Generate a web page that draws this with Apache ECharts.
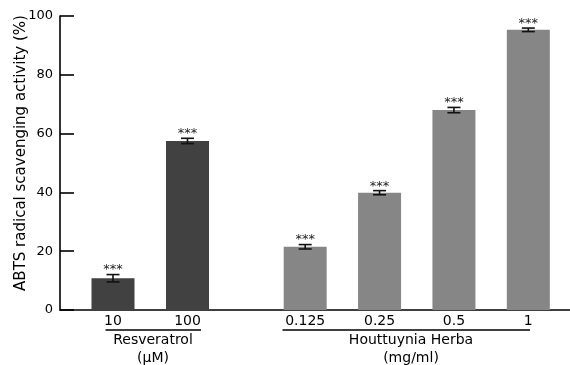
<!DOCTYPE html>
<html>
<head>
<meta charset="utf-8">
<script src="https://cdn.jsdelivr.net/npm/echarts@6/dist/echarts.min.js"></script>
<style>html,body{margin:0;padding:0;background:#fff}#c{width:570px;height:365px}</style>
</head>
<body>
<div id="c"></div>
<script>
// Data
var resCategories = ['10', '100'];
var resValues = [10.8, 57.5];
var resErrors = [1.25, 0.9];
var resSig = ['***', '***'];

var hhCategories = ['0.125', '0.25', '0.5', '1'];
var hhValues = [21.5, 39.9, 68.0, 95.3];
var hhErrors = [0.75, 0.7, 0.9, 0.6];
var hhSig = ['***', '***', '***', '***'];

var yTicks = [0, 20, 40, 60, 80, 100];

var FONT = 'DejaVu Sans';

function errData(vals, errs, sig) {
  return vals.map(function (v, i) { return [i, v, errs[i], sig[i]]; });
}

function makeRender(sigArr) {
  return function (params, api) {
    var i = api.value(0), v = api.value(1), e = api.value(2);
    var top = api.coord([i, v + e]);
    var bot = api.coord([i, v - e]);
    var hw = 6.5;
    var st = { stroke: '#111', lineWidth: 1.6 };
    return {
      type: 'group',
      children: [
        { type: 'line', shape: { x1: top[0], y1: top[1], x2: bot[0], y2: bot[1] }, style: st },
        { type: 'line', shape: { x1: top[0] - hw, y1: top[1], x2: top[0] + hw, y2: top[1] }, style: st },
        { type: 'line', shape: { x1: bot[0] - hw, y1: bot[1], x2: bot[0] + hw, y2: bot[1] }, style: st },
        { type: 'text', x: top[0], y: top[1] + 2, style: { text: sigArr[params.dataIndex], fill: '#222', font: '13px "' + FONT + '"', textAlign: 'center', textVerticalAlign: 'bottom' } }
      ]
    };
  };
}

var chart = echarts.init(document.getElementById('c'));
var option = {
  animation: false,
  grid: [
    { left: 60, right: 0, top: 16, bottom: 55, containLabel: false, outerBoundsMode: 'none' },
    { left: 75.75, width: 149, top: 16, bottom: 55, containLabel: false, outerBoundsMode: 'none' },
    { left: 268, width: 297.5, top: 16, bottom: 55, containLabel: false, outerBoundsMode: 'none' }
  ],
  xAxis: [
    { gridIndex: 0, type: 'value', min: 0, max: 1, axisLine: { show: true, onZero: false, lineStyle: { color: '#000', width: 1.6 } }, axisTick: { show: false }, axisLabel: { show: false }, splitLine: { show: false } },
    { gridIndex: 1, type: 'category', data: resCategories, axisLine: { show: false }, axisTick: { show: false }, axisLabel: { color: '#000', fontFamily: FONT, fontSize: 14, margin: 4 } },
    { gridIndex: 2, type: 'category', data: hhCategories, axisLine: { show: false }, axisTick: { show: false }, axisLabel: { color: '#000', fontFamily: FONT, fontSize: 14, margin: 4 } }
  ],
  yAxis: [
    { gridIndex: 0, type: 'value', min: yTicks[0], max: yTicks[yTicks.length - 1], interval: 20,
      name: 'ABTS radical scavenging activity (%)', nameLocation: 'middle', nameGap: 31, nameMoveOverlap: false,
      nameTextStyle: { color: '#000', fontFamily: FONT, fontSize: 15, padding: [0, 0, 0, 20] },
      axisLine: { show: true, lineStyle: { color: '#000', width: 1.6 } },
      axisTick: { show: true, inside: true, length: 14, lineStyle: { color: '#000', width: 1.6 } },
      axisLabel: { color: '#000', fontFamily: FONT, fontSize: 13, margin: 7 },
      splitLine: { show: false } },
    { gridIndex: 1, type: 'value', min: 0, max: 100, show: false },
    { gridIndex: 2, type: 'value', min: 0, max: 100, show: false }
  ],
  series: [
    { type: 'bar', xAxisIndex: 1, yAxisIndex: 1, data: resValues, barWidth: 43, itemStyle: { color: '#414141' } },
    { type: 'bar', xAxisIndex: 2, yAxisIndex: 2, data: hhValues, barWidth: 43, itemStyle: { color: '#868686' } },
    { type: 'custom', xAxisIndex: 1, yAxisIndex: 1, data: errData(resValues, resErrors, resSig), renderItem: makeRender(resSig), z: 5 },
    { type: 'custom', xAxisIndex: 2, yAxisIndex: 2, data: errData(hhValues, hhErrors, hhSig), renderItem: makeRender(hhSig), z: 5 }
  ],
  graphic: [
    { type: 'line', shape: { x1: 105.5, y1: 330, x2: 201, y2: 330 }, style: { stroke: '#000', lineWidth: 1.5 } },
    { type: 'line', shape: { x1: 282.5, y1: 330, x2: 530, y2: 330 }, style: { stroke: '#000', lineWidth: 1.5 } },
    { type: 'text', x: 153, y: 340, style: { text: 'Resveratrol', fill: '#000', font: '14px "' + FONT + '"', textAlign: 'center', textVerticalAlign: 'middle' } },
    { type: 'text', x: 153, y: 358, style: { text: '(μM)', fill: '#000', font: '14px "' + FONT + '"', textAlign: 'center', textVerticalAlign: 'middle' } },
    { type: 'text', x: 411, y: 340, style: { text: 'Houttuynia Herba', fill: '#000', font: '14px "' + FONT + '"', textAlign: 'center', textVerticalAlign: 'middle' } },
    { type: 'text', x: 411, y: 358, style: { text: '(mg/ml)', fill: '#000', font: '14px "' + FONT + '"', textAlign: 'center', textVerticalAlign: 'middle' } }
  ]
};
chart.setOption(option);
</script>
</body>
</html>
